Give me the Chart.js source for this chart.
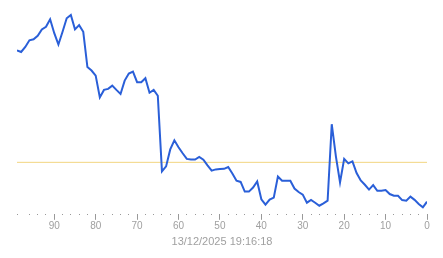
<!DOCTYPE html>
<html lang="en">
<head>
    <meta charset="UTF-8">
    <title>Histórico</title>
    <style>
        body { margin: 0; background: #fff; }
        #box { width: 443px; height: 258px; }
    </style>
</head>
<body>
    <div id="box"><canvas id="grafico"></canvas></div>

    <script src="https://cdn.jsdelivr.net/npm/chart.js"></script>
    <script>
        // valores da esquerda (99 atrás) para a direita (0 = agora)
        const valores = [
            81, 80.2, 82.7, 86, 86.5, 88.2, 91.4, 92.7, 96.4, 89.5,
            83.9, 90.2, 96.9, 98.5, 91.4, 93.5, 90.2, 72.7, 71, 68.5,
            57.7, 61.4, 61.9, 63.5, 61.4, 59.4, 66, 69.5, 70.5, 65.2,
            65.2, 67.2, 60, 61.4, 58.5, 21, 23.5, 31.9, 36.4, 33,
            30, 27.2, 26.9, 26.9, 28.2, 26.8, 24, 21.4, 22, 22.2,
            22.3, 23.2, 20, 16.4, 15.8, 11, 11, 13, 16, 7.2,
            4.5, 7, 8, 18.5, 16.4, 16.4, 16.4, 12.5, 10.8, 9.5,
            5.5, 6.9, 5.5, 4, 5.2, 6.5, 44.4, 28.5, 15.5, 27.2,
            25, 26, 20.2, 16.5, 14.4, 12, 14.2, 11.4, 11.4, 11.8,
            9.8, 9, 8.9, 6.8, 6.5, 8.5, 6.9, 4.9, 3.2, 6
        ];
        const limite = 25.5;
        const rotulo = '13/12/2025 19:16:18';

        const pontos = valores.map((v, i) => ({ x: valores.length - 1 - i, y: v }));
        const linhaLimite = [{ x: valores.length - 1, y: limite }, { x: 0, y: limite }];

        new Chart(document.getElementById('grafico'), {
            type: 'line',
            data: {
                datasets: [{
                    data: pontos,
                    borderColor: '#2a5fd8',
                    borderWidth: 2,
                    pointRadius: 0,
                    tension: 0
                }, {
                    data: linhaLimite,
                    borderColor: '#f2d580',
                    borderWidth: 1,
                    pointRadius: 0
                }]
            },
            options: {
                responsive: true,
                maintainAspectRatio: false,
                animation: false,
                layout: { padding: { left: 17, right: 16, top: 12, bottom: 9 } },
                plugins: {
                    legend: { display: false },
                    tooltip: { enabled: false }
                },
                scales: {
                    x: {
                        type: 'linear',
                        reverse: true,
                        min: 0,
                        max: 99,
                        border: { display: false },
                        grid: {
                            drawOnChartArea: false,
                            tickLength: 6,
                            tickColor: '#999',
                            tickBorderDash: c => (c.tick && c.tick.value % 10 === 0) ? [] : [1, 20]
                        },
                        ticks: {
                            stepSize: 2,
                            autoSkip: false,
                            maxRotation: 0,
                            padding: 0,
                            color: '#a0a0a0',
                            font: { family: 'Liberation Sans, Arial', size: 10 },
                            callback: v => v % 10 === 0 ? v : ''
                        },
                        title: {
                            display: true,
                            text: rotulo,
                            color: '#a0a0a0',
                            font: { family: 'Liberation Sans, Arial', size: 11 },
                            padding: { top: 4, bottom: 0 }
                        }
                    },
                    y: {
                        display: false,
                        min: 0,
                        max: 100
                    }
                }
            }
        });
    </script>
</body>
</html>
